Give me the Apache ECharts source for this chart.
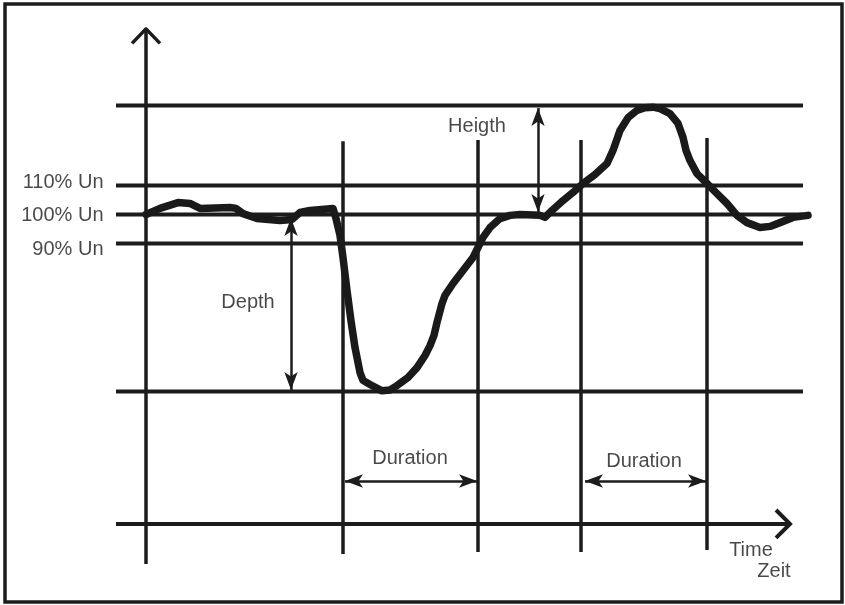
<!DOCTYPE html>
<html>
<head>
<meta charset="utf-8">
<script src="https://cdn.jsdelivr.net/npm/echarts@6/dist/echarts.min.js"></script>
<style>
html,body{margin:0;padding:0;background:#fff;}
#chart{width:845px;height:605px;}
</style>
</head>
<body>
<div id="chart"></div>
<script>
// Time in ms (arbitrary units), voltage in % of Un
const curveX = [0,14,32,44,54,84,90,97,111,134,146,154,164,187,190,194,197,201,205,209,214,217,224,236,244,251,262,271,279,284,288,291,296,299,307,317,327,332,337,344,354,364,374,394,399,406,417,427,437,449,461,467,474,482,491,499,507,514,524,532,537,540,544,551,561,571,581,591,601,614,624,634,647,662];
const curveY = [100,102.1,104.1,103.8,102.1,102.4,102.1,100.3,98.6,97.9,98.3,100.7,101.4,102.1,98.6,92.8,85.2,73.8,63.4,54.1,45.5,42.8,41.4,39.2,39.5,41.0,43.8,47.2,51.4,54.8,58.3,62.8,69.3,72.1,76.2,80.7,85.2,88.6,92.1,95.5,98.6,99.7,100,99.7,99.0,101.4,104.8,107.6,110.7,113.8,117.6,122.1,129.0,133.4,135.9,136.8,137.0,136.5,134.8,131.4,126.6,122.1,118.6,114.1,110.7,107.2,103.8,99.7,97.2,95.5,95.9,97.2,99.0,99.7];

const levelValues = [137.6, 110, 100, 90, 39];
const levelStart = -30, levelEnd = 657;

const timeAxisValue = -6.7;
const timeAxisStart = -30, timeAxisEnd = 644;
const timeArrowBack = 630, timeArrowSpread = 4.8;

const valueAxisTop = 164, valueAxisBottom = -20.5;
const valueArrowSpread = 14, valueArrowDrop = 5.0;

const markerTimes = [197, 332, 435, 561];
const markerTops = [125.3, 125.7, 125.7, 126.4];
const markerBottoms = [-17.1, -16.4, -16.4, -15.7];

const tickLabels = ['110% Un', '100% Un', '90% Un'];
const tickLabelValues = [110.9, 99.8, 87.8];
const tickLabelTime = -42;

const depthTime = 145, depthFrom = 98.8, depthTo = 39.5;
const heightTime = 392, heightFrom = 136.7, heightTo = 100.9;
const durationValue = 8.1;
const durationSpans = [[199, 331], [439, 560]];

const annotationTexts = ['Depth', 'Heigth', 'Duration', 'Duration', 'Time', 'Zeit'];
const annotationX = [102, 331, 264, 498, 605, 628];
const annotationY = [69.8, 130.5, 16.0, 14.7, -16.0, -23.0];

const INK = '#1c1c1c';
const FONT = '"Liberation Sans", Arial, sans-serif';

const series = [];
function seg(points, width) {
  series.push({
    type: 'line', data: points, showSymbol: false, symbol: 'none',
    silent: true, animation: false, z: 2,
    lineStyle: { color: INK, width: width, cap: 'butt', join: 'miter' }
  });
}
levelValues.forEach(v => seg([[levelStart, v], [levelEnd, v]], 4));
seg([[timeAxisStart, timeAxisValue], [timeAxisEnd, timeAxisValue]], 4);
seg([[timeArrowBack, timeAxisValue + timeArrowSpread], [timeAxisEnd, timeAxisValue], [timeArrowBack, timeAxisValue - timeArrowSpread]], 4);
seg([[0, valueAxisBottom], [0, valueAxisTop]], 3.5);
seg([[-valueArrowSpread, valueAxisTop - valueArrowDrop], [0, valueAxisTop], [valueArrowSpread, valueAxisTop - valueArrowDrop]], 3.5);
markerTimes.forEach((t, i) => seg([[t, markerBottoms[i]], [t, markerTops[i]]], 3.5));

// dimension arrows
const dimLines = [
  [{ coord: [depthTime, depthFrom] }, { coord: [depthTime, depthTo] }],
  [{ coord: [heightTime, heightFrom] }, { coord: [heightTime, heightTo] }]
].concat(durationSpans.map(s => [{ coord: [s[0], durationValue] }, { coord: [s[1], durationValue] }]));
series.push({
  type: 'line', data: [], silent: true, animation: false,
  markLine: {
    silent: true, animation: false,
    symbol: ['arrow', 'arrow'], symbolSize: [10, 18],
    label: { show: false },
    lineStyle: { color: INK, width: 2.5, type: 'solid' },
    data: dimLines
  }
});

// the voltage curve
series.push({
  type: 'line', data: curveX.map((x, i) => [x, curveY[i]]),
  showSymbol: false, symbol: 'none', silent: true, animation: false, z: 5,
  lineStyle: { color: '#1a1a1a', width: 7.5, cap: 'round', join: 'round' }
});

// tick labels
series.push({
  type: 'scatter', symbolSize: 1, itemStyle: { color: 'rgba(0,0,0,0)' }, silent: true, animation: false, clip: false, z: 6,
  data: tickLabels.map((t, i) => ({ value: [tickLabelTime, tickLabelValues[i]], name: t })),
  label: { show: true, position: 'left', distance: 0, formatter: p => p.name,
    color: '#1a1a1a', fontSize: 20, fontFamily: FONT }
});
// annotations
series.push({
  type: 'scatter', symbolSize: 1, itemStyle: { color: 'rgba(0,0,0,0)' }, silent: true, animation: false, clip: false, z: 6,
  data: annotationTexts.map((t, i) => ({ value: [annotationX[i], annotationY[i]], name: t })),
  label: { show: true, position: 'inside', align: 'center', verticalAlign: 'middle', formatter: p => p.name,
    color: '#1a1a1a', fontSize: 20, fontFamily: FONT }
});

const chart = echarts.init(document.getElementById('chart'), null, { renderer: 'canvas' });
chart.setOption({
  backgroundColor: '#fff',
  animation: false,
  grid: { left: 110, width: 702, top: 28.9, height: 536.5 },
  xAxis: { type: 'value', min: -36, max: 666, show: false },
  yAxis: { type: 'value', min: -21, max: 164, show: false },
  graphic: [{
    type: 'rect', shape: { x: 5, y: 4, width: 837, height: 598 },
    style: { fill: 'none', stroke: INK, lineWidth: 3.5 }, silent: true
  }],
  series: series
});
</script>
</body>
</html>
